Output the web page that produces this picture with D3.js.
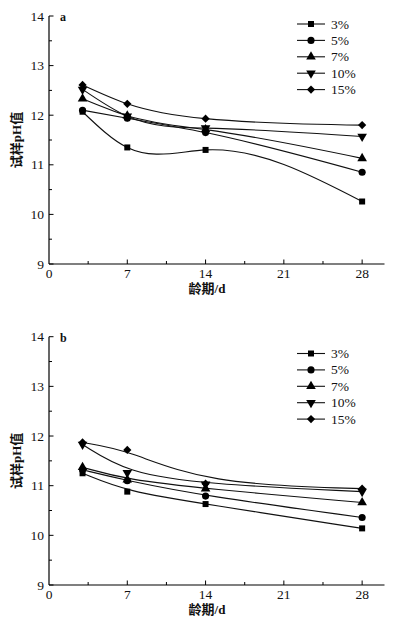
<!DOCTYPE html>
<html>
<head>
<meta charset="utf-8">
<script src="https://cdn.jsdelivr.net/npm/d3@7"></script>
<style>
  html, body { margin: 0; padding: 0; background: #fff; }
  svg { display: block; }
  text { font-family: "Liberation Serif", "Noto Sans CJK SC", serif; fill: #111; }
</style>
</head>
<body>
<div id="chart"></div>
<script>
// Ages (days) and pH values for each dosage, panels a and b
const days = [3, 7, 14, 28]
const dosages = ["3%", "5%", "7%", "10%", "15%"]
const xTicks = [0, 7, 14, 21, 28]
const yTicks = [9, 10, 11, 12, 13, 14]

const phA_3 = [12.07, 11.35, 11.30, 10.26]
const phA_5 = [12.10, 11.94, 11.65, 10.85]
const phA_7 = [12.33, 11.99, 11.71, 11.13]
const phA_10 = [12.52, 11.98, 11.74, 11.57]
const phA_15 = [12.61, 12.23, 11.93, 11.80]

const phB_3 = [11.25, 10.88, 10.63, 10.14]
const phB_5 = [11.32, 11.10, 10.79, 10.36]
const phB_7 = [11.37, 11.12, 10.94, 10.66]
const phB_10 = [11.83, 11.26, 11.03, 10.88]
const phB_15 = [11.87, 11.72, 11.04, 10.94]

// square, circle, up triangle, down triangle, diamond (rotated square)
const symbols = [
  d3.symbolSquare, d3.symbolCircle, d3.symbolTriangle, d3.symbolTriangle, d3.symbolSquare
]
const symbolSizes = [36, 40, 40, 40, 34]
const symbolRotate = [0, 0, 0, 180, 45]

// Natural cubic spline in x (like Origin's "Spline" connector), as a d3 curve
function curveSplineX(context) {
  let xs, ys
  return {
    areaStart() {}, areaEnd() {},
    lineStart() { xs = []; ys = [] },
    point(px, py) { xs.push(+px); ys.push(+py) },
    lineEnd() {
      const n = xs.length
      if (!n) return
      context.moveTo(xs[0], ys[0])
      if (n < 3) { if (n === 2) context.lineTo(xs[1], ys[1]); return }
      const h = d3.range(n - 1).map(i => xs[i + 1] - xs[i])
      // tridiagonal solve for second derivatives, natural ends
      const M = new Array(n).fill(0)
      const a = [], b = [], c = [], r = []
      for (let i = 1; i < n - 1; i++) {
        a.push(h[i - 1]); b.push(2 * (h[i - 1] + h[i])); c.push(h[i])
        r.push(6 * ((ys[i + 1] - ys[i]) / h[i] - (ys[i] - ys[i - 1]) / h[i - 1]))
      }
      const m = b.length
      for (let i = 1; i < m; i++) {
        const w = a[i] / b[i - 1]
        b[i] -= w * c[i - 1]; r[i] -= w * r[i - 1]
      }
      const sol = new Array(m)
      sol[m - 1] = r[m - 1] / b[m - 1]
      for (let i = m - 2; i >= 0; i--) sol[i] = (r[i] - c[i] * sol[i + 1]) / b[i]
      for (let i = 0; i < m; i++) M[i + 1] = sol[i]
      for (let i = 0; i < n - 1; i++) {
        const s = (ys[i + 1] - ys[i]) / h[i]
        const m0 = s - h[i] * (2 * M[i] + M[i + 1]) / 6
        const m1 = s + h[i] * (M[i] + 2 * M[i + 1]) / 6
        context.bezierCurveTo(
          xs[i] + h[i] / 3, ys[i] + m0 * h[i] / 3,
          xs[i + 1] - h[i] / 3, ys[i + 1] - m1 * h[i] / 3,
          xs[i + 1], ys[i + 1])
      }
    }
  }
}

// panel a uses an interpolating spline, panel b a B-spline
const panels = [
  { label: "a", series: [phA_3, phA_5, phA_7, phA_10, phA_15], top: 16, bottom: 264, legendY: 24, curve: curveSplineX },
  { label: "b", series: [phB_3, phB_5, phB_7, phB_10, phB_15], top: 336.7, bottom: 585, legendY: 353.5, curve: d3.curveBasis }
]

const W = 393, H = 625
const svg = d3.select("#chart").append("svg")
  .attr("width", W)
  .attr("height", H)

const x = d3.scaleLinear().domain([0, 30]).range([49, 384.5])

panels.forEach(p => {
  const y = d3.scaleLinear().domain([9, 14]).range([p.bottom, p.top])
  const g = svg.append("g")

  // axes lines
  g.append("line")
    .attr("x1", x(0)).attr("x2", x(0))
    .attr("y1", y(14)).attr("y2", y(9))
    .attr("stroke", "#000").attr("stroke-width", 1.2)
  g.append("line")
    .attr("x1", x(0)).attr("x2", x(30))
    .attr("y1", y(9)).attr("y2", y(9))
    .attr("stroke", "#000").attr("stroke-width", 1.2)

  // y ticks (major + minor, inward)
  d3.range(9, 14.01, 0.5).forEach(v => {
    const major = Math.abs(v - Math.round(v)) < 1e-6
    g.append("line")
      .attr("x1", x(0)).attr("x2", x(0) + (major ? 4.5 : 3))
      .attr("y1", y(v)).attr("y2", y(v))
      .attr("stroke", "#000").attr("stroke-width", 1)
  })
  yTicks.forEach(v => {
    g.append("text")
      .attr("x", x(0) - 5)
      .attr("y", y(v) + 4.5)
      .attr("text-anchor", "end")
      .style("font-size", "13.5px")
      .text(v)
  })

  // x ticks (major + minor, inward)
  d3.range(3.5, 28.01, 3.5).forEach(v => {
    const major = Math.abs(v / 7 - Math.round(v / 7)) < 1e-6
    g.append("line")
      .attr("x1", x(v)).attr("x2", x(v))
      .attr("y1", y(9)).attr("y2", y(9) - (major ? 4.5 : 3))
      .attr("stroke", "#000").attr("stroke-width", 1)
  })
  xTicks.forEach(v => {
    g.append("text")
      .attr("x", x(v))
      .attr("y", y(9) + 14)
      .attr("text-anchor", "middle")
      .style("font-size", "13.5px")
      .text(v)
  })

  // axis titles
  g.append("text")
    .attr("x", 207)
    .attr("y", y(9) + 29)
    .attr("text-anchor", "middle")
    .style("font-size", "13px")
    .style("font-weight", "bold")
    .text("龄期/d")

  g.append("text")
    .attr("transform", `translate(21,${(p.top + p.bottom) / 2}) rotate(-90)`)
    .attr("text-anchor", "middle")
    .style("font-size", "13px")
    .style("font-weight", "bold")
    .text("试样pH值")

  // panel label
  g.append("text")
    .attr("x", 60)
    .attr("y", p.top + 5)
    .style("font-size", "12px")
    .style("font-weight", "bold")
    .text(p.label)

  // series curves
  const line = d3.line()
    .x(d => x(d[0]))
    .y(d => y(d[1]))
    .curve(p.curve)

  p.series.forEach((vals, i) => {
    const pts = days.map((d, j) => [d, vals[j]])
    g.append("path")
      .datum(pts)
      .attr("fill", "none")
      .attr("stroke", "#111")
      .attr("stroke-width", 1.1)
      .attr("d", line)

    g.selectAll(null)
      .data(pts)
      .enter()
      .append("path")
      .attr("d", d3.symbol().type(symbols[i]).size(symbolSizes[i]))
      .attr("transform", d => `translate(${x(d[0])},${y(d[1])}) rotate(${symbolRotate[i]})`)
      .attr("fill", "#000")
  })

  // legend
  dosages.forEach((name, i) => {
    const ly = p.legendY + i * 16.4
    g.append("line")
      .attr("x1", 297).attr("x2", 325)
      .attr("y1", ly).attr("y2", ly)
      .attr("stroke", "#111").attr("stroke-width", 1.1)
    g.append("path")
      .attr("d", d3.symbol().type(symbols[i]).size(symbolSizes[i]))
      .attr("transform", `translate(311,${ly}) rotate(${symbolRotate[i]})`)
      .attr("fill", "#000")
    g.append("text")
      .attr("x", 331)
      .attr("y", ly + 4.5)
      .style("font-size", "13.5px")
      .text(name)
  })
})
</script>
</body>
</html>
